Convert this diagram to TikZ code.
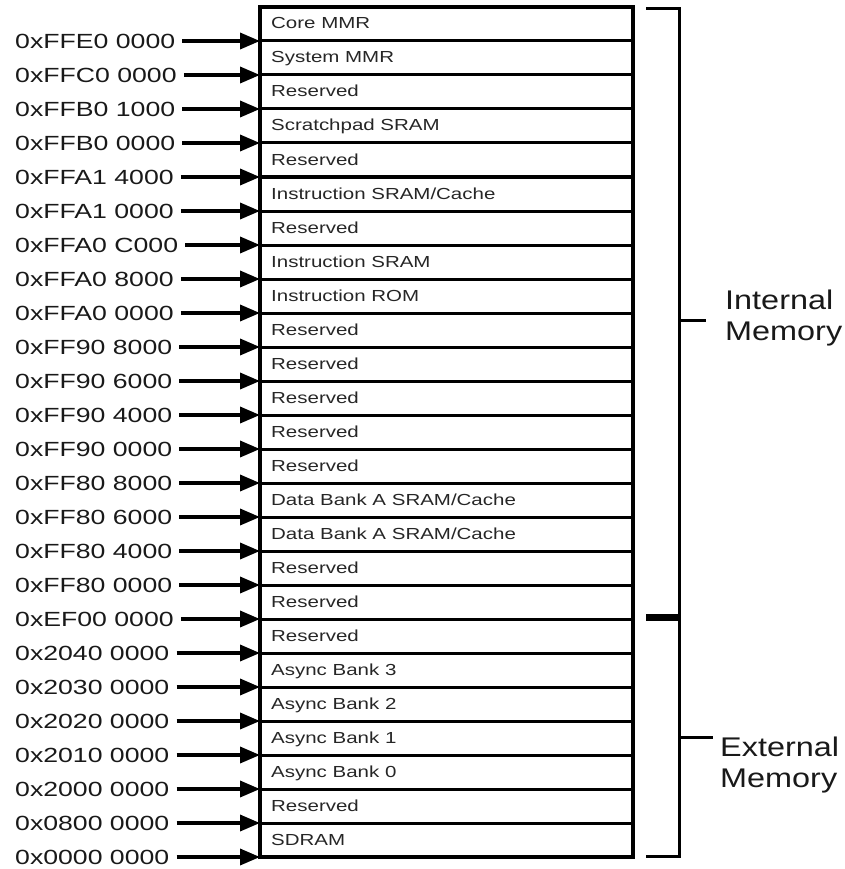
\documentclass[tikz,border=0pt]{standalone}
\usepackage{fontspec}
\setmainfont{Liberation Sans}
\newfontfamily\addrfont[FakeStretch=1.3]{Liberation Sans}
\newfontfamily\rowfont[FakeStretch=1.28]{Liberation Sans}
\newfontfamily\sidefont[FakeStretch=1.2]{Liberation Sans}
\usetikzlibrary{arrows.meta}
\tikzset{
  rowbox/.style={draw, line width=3pt, minimum width=373pt, minimum height=34pt, inner sep=0pt, outer sep=0pt},
  rowlabel/.style={anchor=base west, inner sep=0pt, text=black!85, font=\rowfont\fontsize{16}{18}\selectfont},
  addr/.style={anchor=west, inner sep=0pt, text=black!90, font=\addrfont\fontsize{20.5}{22}\selectfont},
  arr/.style={line width=3.5pt, -{Triangle[length=20pt,width=16pt]}},
  brk/.style={line width=3pt},
  side/.style={anchor=north west, inner sep=0pt, align=left, text=black!90, font=\sidefont\fontsize{27}{31}\selectfont}
}
\begin{document}
\begin{tikzpicture}[x=1pt,y=-1pt]
\useasboundingbox (0,0) rectangle (844,869);
\foreach \t [count=\i] in {Core MMR, System MMR, Reserved, Scratchpad SRAM, Reserved,
  Instruction SRAM/Cache, Reserved, Instruction SRAM, Instruction ROM, Reserved,
  Reserved, Reserved, Reserved, Reserved, Data Bank A SRAM/Cache,
  Data Bank A SRAM/Cache, Reserved, Reserved, Reserved, Async Bank 3,
  Async Bank 2, Async Bank 1, Async Bank 0, Reserved, SDRAM} {
  \node[rowbox] (r\i) at (446.5, {7+(\i-0.5)*34}) {};
  \node[rowlabel] (t\i) at (271, {7+(\i-0.5)*34+5}) {\t};
}
\draw[line width=4pt] (r1.north west) rectangle (r25.south east);
\foreach \a [count=\i] in {0xFFE0 0000, 0xFFC0 0000, 0xFFB0 1000, 0xFFB0 0000,
  0xFFA1 4000, 0xFFA1 0000, 0xFFA0 C000, 0xFFA0 8000, 0xFFA0 0000,
  0xFF90 8000, 0xFF90 6000, 0xFF90 4000, 0xFF90 0000, 0xFF80 8000,
  0xFF80 6000, 0xFF80 4000, 0xFF80 0000, 0xEF00 0000, 0x2040 0000,
  0x2030 0000, 0x2020 0000, 0x2010 0000, 0x2000 0000, 0x0800 0000, 0x0000 0000} {
  \node[addr] (a\i) at (15, {7+\i*34}) {\a};
  \draw[arr] ([xshift=7pt]a\i.east) -- (r\i.south west);
}
% bracket
\coordinate (bt0) at (646,9);
\coordinate (bt1) at (679,9);
\coordinate (bb1) at (679,856);
\coordinate (bb0) at (646,856);
\draw[brk] (bt0) -- (bt1) -- (bb1) -- (bb0);
\coordinate (mid0) at (646,617);
\coordinate (mid1) at (679,617);
\draw[line width=7pt] (mid0) -- (mid1);
\coordinate (ti0) at (679,320);
\coordinate (ti1) at (706,320);
\draw[brk] (ti0) -- (ti1);
\coordinate (te0) at (679,737);
\coordinate (te1) at (713,737);
\draw[brk] (te0) -- (te1);
\node[side] (im) at (725,290) {Internal\\Memory};
\node[side] (em) at (720,737) {External\\Memory};
\end{tikzpicture}
\end{document}
